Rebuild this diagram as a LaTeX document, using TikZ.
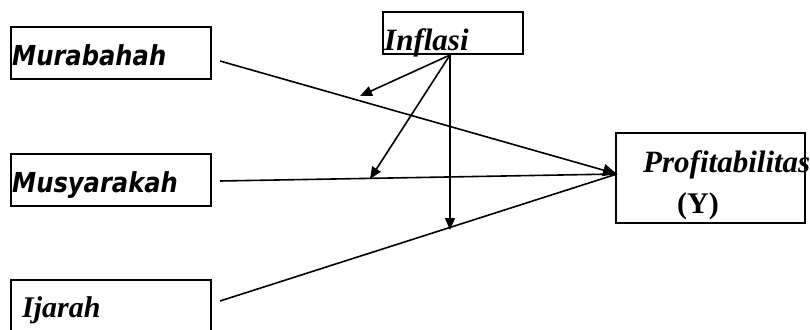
\documentclass[tikz,border=0pt]{standalone}
\usepackage{fontspec}
\setmainfont{Liberation Serif}
\newfontfamily\boxsans[FakeStretch=0.88]{DejaVu Sans}
\usetikzlibrary{arrows.meta}

\tikzset{
	varbox/.style = {draw, line width=1.5pt, inner sep=0pt},
	vartext/.style = {anchor=base west, inner sep=0pt},
	link/.style = {line width=1.6pt},
	linkarrow/.style = {link, -{Triangle[length=12pt,width=10pt]}}
}

\begin{document}
\begin{tikzpicture}[x=1pt,y=-1pt]
	\useasboundingbox (0,0) rectangle (810,329);
%
	\node[varbox, minimum width=200pt, minimum height=52pt] (mur) at (111,53) {};
	\node[varbox, minimum width=200pt, minimum height=52pt] (mus) at (111,180) {};
	\node[varbox, minimum width=200pt, minimum height=62pt] (ija) at (111,311) {};
	\node[varbox, minimum width=140pt, minimum height=42pt] (inf) at (453,33) {};
	\node[varbox, minimum width=189pt, minimum height=90pt] (pro) at (710.5,178) {};
%
	\node[vartext] (murtxt) at (12,65) {\boxsans\fontsize{27.5}{30}\selectfont\bfseries\itshape Murabahah};
	\node[vartext] (mustxt) at (12,192) {\boxsans\fontsize{27.5}{30}\selectfont\bfseries\itshape Musyarakah};
	\node[vartext] (ijatxt) at (22,317) {\fontsize{30}{34}\selectfont\bfseries\itshape Ijarah};
	\node[vartext] (inftxt) at (384,51) {\fontsize{31}{34}\selectfont\bfseries\itshape Inflasi};
	\node[vartext] (protxt) at (643,172) {\fontsize{31}{34}\selectfont\bfseries\itshape Profitabilitas};
	\node[vartext] (ytxt) at (677,213) {\fontsize{30}{34}\selectfont\bfseries (Y)};
%
	\coordinate (murout) at (220,61);
	\coordinate (musout) at (220,181);
	\coordinate (ijaout) at (220,301);
	\coordinate (hub) at (617,174);
	\coordinate (infout) at (450,55);
	\coordinate (tipmur) at (360,96);
	\coordinate (tipmus) at (370,179);
	\coordinate (tipija) at (450,230);
%
	\draw[link, -{Triangle[length=14pt,width=12pt]}] (murout) -- (hub);
	\draw[link] (musout) -- (hub);
	\draw[link] (ijaout) -- (hub);
	\draw[linkarrow] (infout) -- (tipmur);
	\draw[linkarrow] (infout) -- (tipmus);
	\draw[linkarrow] (infout) -- (tipija);
\end{tikzpicture}
\end{document}
